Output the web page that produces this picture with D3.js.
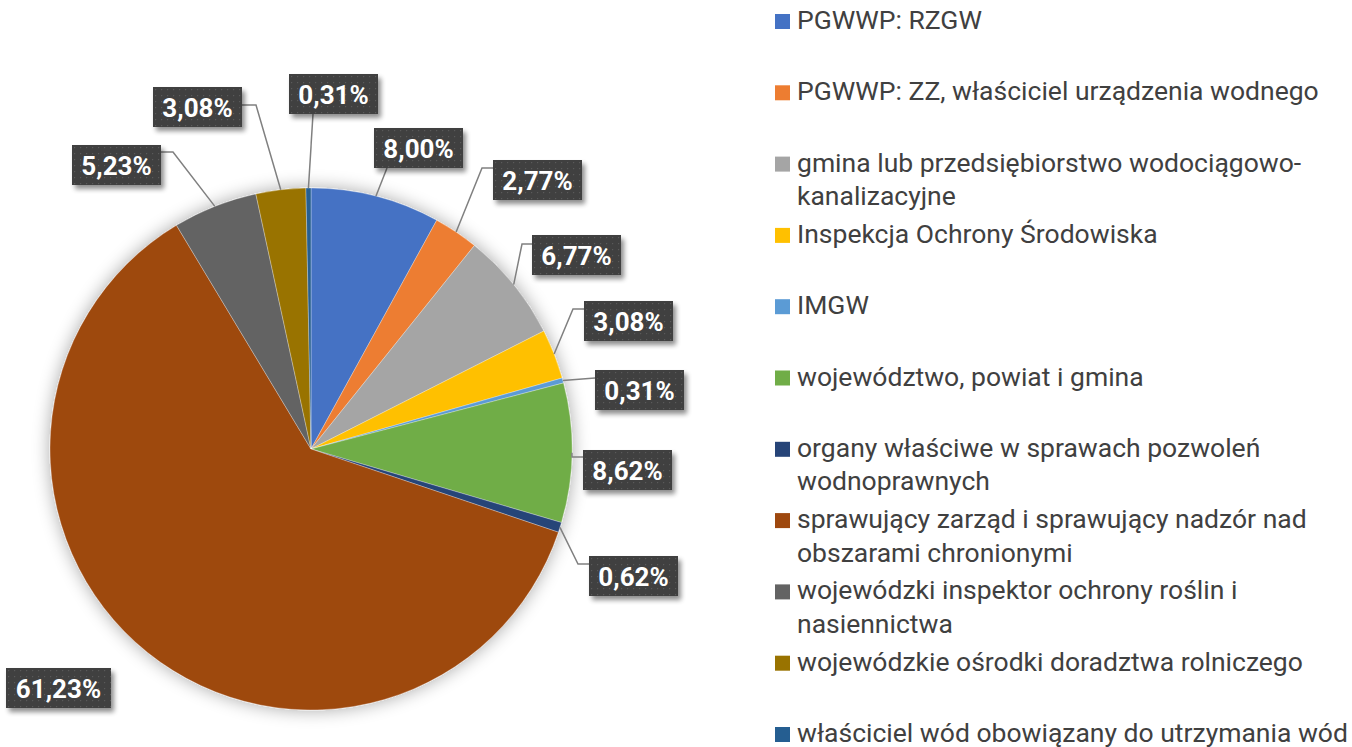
<!DOCTYPE html>
<html>
<head>
<meta charset="utf-8">
<script src="https://cdn.jsdelivr.net/npm/d3@7"></script>
<style>
  body { margin: 0; background: #fff; }
  svg { display: block; font-family: Roboto, "Noto Sans", sans-serif; }
</style>
</head>
<body>
<div id="chart"></div>
<script>
// Data
const categories = [
  "PGWWP: RZGW",
  "PGWWP: ZZ, właściciel urządzenia wodnego",
  "gmina lub przedsiębiorstwo wodociągowo-|kanalizacyjne",
  "Inspekcja Ochrony Środowiska",
  "IMGW",
  "województwo, powiat i gmina",
  "organy właściwe w sprawach pozwoleń|wodnoprawnych",
  "sprawujący zarząd i sprawujący nadzór nad|obszarami chronionymi",
  "wojewódzki inspektor ochrony roślin i|nasiennictwa",
  "wojewódzkie ośrodki doradztwa rolniczego",
  "właściciel wód obowiązany do utrzymania wód"
];
const values = [8.00, 2.77, 6.77, 3.08, 0.31, 8.62, 0.62, 61.23, 5.23, 3.08, 0.31];
const colors = ["#4472c4", "#ed7d31", "#a5a5a5", "#ffc000", "#5b9bd5", "#70ad47",
                "#264478", "#9e480e", "#636363", "#997300", "#255e91"];

// Label placement (box top-left, optional elbow, attach point on box)
const labelLayout = [
  { x: 374, y: 128, attach: [387, 168] },
  { x: 493, y: 160, elbow: [482, 168], attach: [493, 168] },
  { x: 532, y: 235, elbow: [522, 244], attach: [532, 244] },
  { x: 584, y: 301, elbow: [573, 309], attach: [584, 309] },
  { x: 595, y: 370, attach: [595, 378] },
  { x: 583, y: 450, elbow: [572, 457], attach: [583, 457] },
  { x: 589, y: 556, elbow: [578, 564], attach: [589, 564] },
  { x: 6,   y: 668, w: 105 },
  { x: 72,  y: 145, elbow: [173, 152], attach: [161, 152] },
  { x: 153, y: 87,  elbow: [256, 105], attach: [242, 105] },
  { x: 289, y: 74,  attach: [313, 114] }
];

const W = 1352, H = 747;
const cx = 311, cy = 449, R = 261;

const svg = d3.select("#chart").append("svg")
    .attr("width", W)
    .attr("height", H);

const defs = svg.append("defs");

// soft shadow around the pie
const pf = defs.append("filter").attr("id", "pieShadow")
    .attr("x", "-20%").attr("y", "-20%").attr("width", "140%").attr("height", "140%");
pf.append("feGaussianBlur").attr("in", "SourceAlpha").attr("stdDeviation", 9).attr("result", "b");
pf.append("feComponentTransfer").attr("in", "b").attr("result", "s")
  .append("feFuncA").attr("type", "linear").attr("slope", 0.35);
const pm = pf.append("feMerge");
pm.append("feMergeNode").attr("in", "s");
pm.append("feMergeNode").attr("in", "SourceGraphic");

// label box shadow
const lf = defs.append("filter").attr("id", "boxShadow")
    .attr("x", "-20%").attr("y", "-30%").attr("width", "150%").attr("height", "180%");
lf.append("feGaussianBlur").attr("in", "SourceAlpha").attr("stdDeviation", 2.5).attr("result", "b");
lf.append("feOffset").attr("in", "b").attr("dx", 3).attr("dy", 4).attr("result", "o");
lf.append("feComponentTransfer").attr("in", "o").attr("result", "s")
  .append("feFuncA").attr("type", "linear").attr("slope", 0.45);
const lm = lf.append("feMerge");
lm.append("feMergeNode").attr("in", "s");
lm.append("feMergeNode").attr("in", "SourceGraphic");

// dotted pattern for label boxes
const pat = defs.append("pattern").attr("id", "dots")
    .attr("width", 6).attr("height", 6).attr("patternUnits", "userSpaceOnUse");
pat.append("rect").attr("width", 6).attr("height", 6).attr("fill", "#404040");
pat.append("rect").attr("x", 2).attr("y", 2).attr("width", 1.2).attr("height", 1.2).attr("fill", "#5a5a5a");

// Pie
const pie = d3.pie().sort(null).value(d => d);
const arcs = pie(values);
const arc = d3.arc().innerRadius(0).outerRadius(R);

const g = svg.append("g").attr("transform", `translate(${cx},${cy})`);
g.append("g").attr("filter", "url(#pieShadow)")
  .selectAll("path")
  .data(arcs)
  .enter()
  .append("path")
  .attr("d", arc)
  .attr("fill", (d, i) => colors[i])
  .attr("stroke", "#ffffff")
  .attr("stroke-opacity", 0.5)
  .attr("stroke-width", 0.6);

// Leader lines
const fmt = v => d3.format(".2f")(v).replace(".", ",") + "%";
const lines = svg.append("g");
arcs.forEach((d, i) => {
  const L = labelLayout[i];
  if (!L.attach) return;
  const a = (d.startAngle + d.endAngle) / 2;
  const p0 = [cx + R * Math.sin(a), cy - R * Math.cos(a)];
  const pts = [p0];
  if (L.elbow) pts.push(L.elbow);
  pts.push(L.attach);
  lines.append("path")
    .attr("d", d3.line()(pts))
    .attr("fill", "none")
    .attr("stroke", "#808080")
    .attr("stroke-width", 1.5);
});

// Label boxes
const labels = svg.append("g");
arcs.forEach((d, i) => {
  const L = labelLayout[i];
  const bw = L.w || 89, bh = 40;
  const lg = labels.append("g").attr("transform", `translate(${L.x},${L.y})`);
  lg.append("rect")
    .attr("width", bw).attr("height", bh)
    .attr("fill", "url(#dots)")
    .attr("filter", "url(#boxShadow)");
  lg.append("text")
    .attr("x", bw / 2).attr("y", 30)
    .attr("text-anchor", "middle")
    .attr("fill", "#ffffff")
    .attr("font-weight", "bold")
    .attr("font-size", 26)
    .text(fmt(values[i]));
});

// Legend
const legend = svg.append("g").attr("transform", "translate(775,0)");
categories.forEach((c, i) => {
  const y0 = 29 + i * 71.3;
  const item = legend.append("g");
  item.append("rect")
    .attr("x", 0).attr("y", y0 - 15)
    .attr("width", 15).attr("height", 15)
    .attr("fill", colors[i]);
  c.split("|").forEach((line, j) => {
    item.append("text")
      .attr("x", 22).attr("y", y0 + j * 33.5)
      .attr("fill", "#404040")
      .attr("font-size", 26.5)
      .text(line);
  });
});
</script>
</body>
</html>
